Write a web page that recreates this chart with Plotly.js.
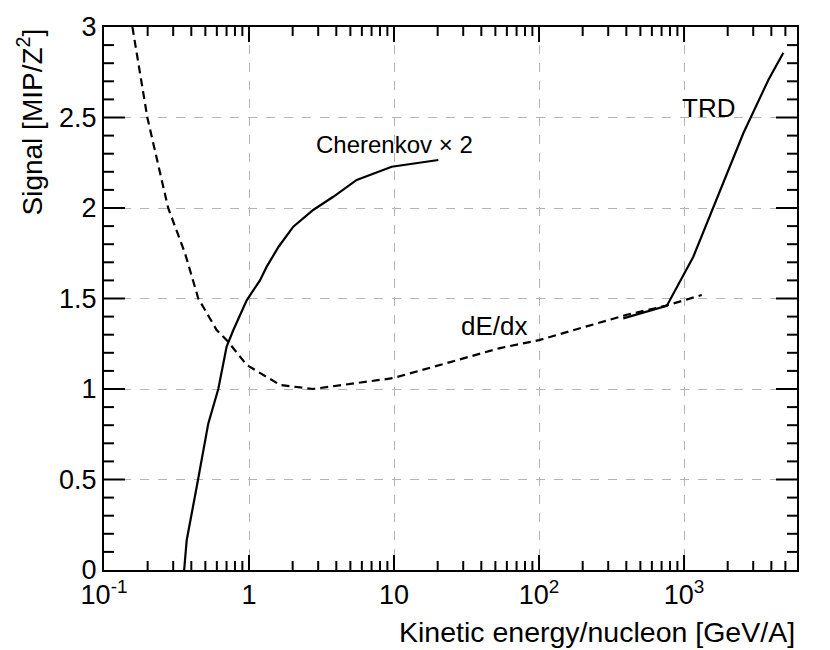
<!DOCTYPE html>
<html>
<head>
<meta charset="utf-8">
<script src="https://cdn.plot.ly/plotly-3.0.1.min.js"></script>
<style>
  html, body { margin: 0; padding: 0; background: #fff; }
  #data { width: 830px; height: 650px; }
</style>
</head>
<body>
<div id="data"></div>
<script>
// dE/dx (dashed)
var dedxEnergy = [0.157, 0.199, 0.277, 0.362, 0.447, 0.598, 0.72, 0.964, 1.64, 2.76, 9.85, 53.8, 100, 403, 739, 1324];
var dedxSignal = [3.0, 2.5, 2.0, 1.75, 1.5, 1.326, 1.26, 1.133, 1.022, 1.0, 1.06, 1.226, 1.27, 1.41, 1.459, 1.519];

// Cherenkov x 2 (solid)
var cherEnergy = [0.357, 0.372, 0.436, 0.524, 0.614, 0.701, 0.780, 0.964, 1.19, 1.325, 1.60, 2.02, 2.77, 3.81, 5.53, 9.64, 20.2];
var cherSignal = [0, 0.166, 0.46, 0.81, 1.0, 1.234, 1.326, 1.49, 1.6, 1.676, 1.786, 1.897, 1.989, 2.062, 2.155, 2.228, 2.265];

// TRD (solid)
var trdEnergy = [381, 760, 1159, 1592, 2564, 3813, 4842];
var trdSignal = [1.39, 1.459, 1.731, 2.007, 2.413, 2.707, 2.858];

var xTickVals = [0.1, 1, 10, 100, 1000];
var xTickText = ['10<sup>-1</sup>', '1', '10', '10<sup>2</sup>', '10<sup>3</sup>'];
var xMinorVals = [0.2, 0.3, 0.4, 0.5, 0.6, 0.7, 0.8, 0.9,
  2, 3, 4, 5, 6, 7, 8, 9,
  20, 30, 40, 50, 60, 70, 80, 90,
  200, 300, 400, 500, 600, 700, 800, 900,
  2000, 3000, 4000, 5000];
var yTickVals = [0, 0.5, 1, 1.5, 2, 2.5, 3];
var yTickText = ['0', '0.5', '1', '1.5', '2', '2.5', '3'];
var yMinorVals = [0.1, 0.2, 0.3, 0.4, 0.6, 0.7, 0.8, 0.9, 1.1, 1.2, 1.3, 1.4,
  1.6, 1.7, 1.8, 1.9, 2.1, 2.2, 2.3, 2.4, 2.6, 2.7, 2.8, 2.9];

var fontFamily = 'Liberation Sans, Arial, sans-serif';
var xRange = [-1, 3.779];
var yRange = [0, 3];
var margin = { l: 104, r: 33, t: 27, b: 80, pad: 0 };
var pxPerDecade = (830 - margin.l - margin.r) / (xRange[1] - xRange[0]);
var pxPerUnit = (650 - margin.t - margin.b) / (yRange[1] - yRange[0]);

// inward ticks on all four sides (ROOT style), built as one line trace with gaps
var tickX = [];
var tickY = [];

function add_x_ticks(vals, len) {
  var d = len / pxPerUnit;
  vals.forEach(function (v) {
    tickX.push(v, v, null, v, v, null);
    tickY.push(yRange[0], yRange[0] + d, null, yRange[1], yRange[1] - d, null);
  });
}

function add_y_ticks(vals, len) {
  var lo = Math.pow(10, xRange[0]);
  var loEnd = Math.pow(10, xRange[0] + len / pxPerDecade);
  var hi = Math.pow(10, xRange[1]);
  var hiEnd = Math.pow(10, xRange[1] - len / pxPerDecade);
  vals.forEach(function (v) {
    tickX.push(lo, loEnd, null, hiEnd, hi, null);
    tickY.push(v, v, null, v, v, null);
  });
}

add_x_ticks(xTickVals.slice(1), 15);
add_x_ticks(xMinorVals, 9);
add_y_ticks(yTickVals.slice(1, -1), 21);
add_y_ticks(yMinorVals, 10);

var traces = [
  {
    x: tickX, y: tickY, type: 'scatter', mode: 'lines', connectgaps: false,
    line: { color: '#000', width: 2 }, hoverinfo: 'skip'
  },
  {
    x: dedxEnergy, y: dedxSignal, type: 'scatter', mode: 'lines',
    line: { color: '#000', width: 2.2, dash: '8px,5px' }, hoverinfo: 'skip'
  },
  {
    x: cherEnergy, y: cherSignal, type: 'scatter', mode: 'lines',
    line: { color: '#000', width: 2.2 }, hoverinfo: 'skip'
  },
  {
    x: trdEnergy, y: trdSignal, type: 'scatter', mode: 'lines',
    line: { color: '#000', width: 2.2 }, hoverinfo: 'skip'
  }
];

var layout = {
  width: 830,
  height: 650,
  showlegend: false,
  margin: margin,
  font: { family: fontFamily, size: 26, color: '#000' },
  plot_bgcolor: '#fff',
  paper_bgcolor: '#fff',
  xaxis: {
    type: 'log',
    range: xRange,
    tickvals: xTickVals,
    ticktext: xTickText,
    ticks: '',
    showline: true,
    linewidth: 2,
    linecolor: '#000',
    mirror: true,
    showgrid: true,
    gridcolor: '#b4b4b4',
    gridwidth: 1,
    griddash: 'dash',
    zeroline: false,
    tickfont: { size: 27 }
  },
  yaxis: {
    range: yRange,
    tickvals: yTickVals,
    ticktext: yTickText,
    ticks: '',
    showline: true,
    linewidth: 2,
    linecolor: '#000',
    mirror: true,
    showgrid: true,
    gridcolor: '#b4b4b4',
    gridwidth: 1,
    griddash: 'dash',
    zeroline: false,
    tickfont: { size: 27 }
  },
  annotations: [
    {
      xref: 'paper', yref: 'paper', x: 1, y: 0, yshift: -44,
      xanchor: 'right', yanchor: 'top', showarrow: false,
      text: 'Kinetic energy/nucleon [GeV/A]', font: { size: 28.5 }
    },
    {
      xref: 'paper', yref: 'paper', x: 0, y: 1, xshift: -74,
      xanchor: 'center', yanchor: 'top', showarrow: false, textangle: -90,
      text: 'Signal [MIP/Z<sup>2</sup>]', font: { size: 28 }
    },
    {
      xref: 'x', yref: 'y', x: 1, y: 2.35, showarrow: false,
      text: 'Cherenkov \u00d7 2', font: { size: 24 }
    },
    {
      xref: 'x', yref: 'y', x: 3.172, y: 2.553, showarrow: false,
      text: 'TRD', font: { size: 26 }
    },
    {
      xref: 'x', yref: 'y', x: 1.69, y: 1.348, showarrow: false,
      text: 'dE/dx', font: { size: 26 }
    }
  ]
};

var config = { staticPlot: true, displayModeBar: false };

Plotly.newPlot('data', traces, layout, config);
</script>
</body>
</html>
